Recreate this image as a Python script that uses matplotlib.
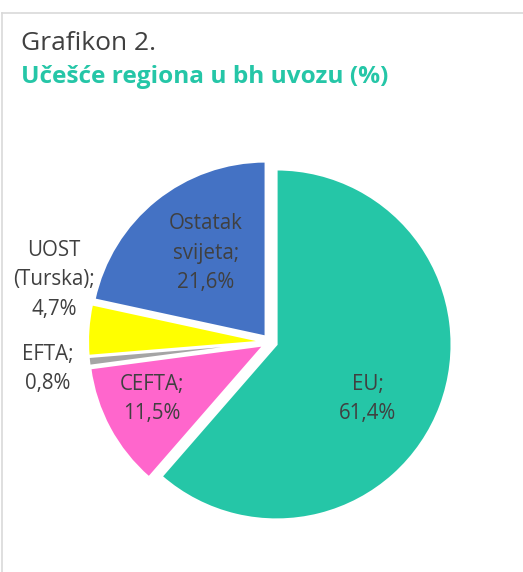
#!/usr/bin/env python3
# -*- coding: utf-8 -*-
"""Grafikon 2. -- Ucesce regiona u bh uvozu (%), pie with exploded slices."""
import matplotlib
matplotlib.use("Agg")
import matplotlib.pyplot as plt
from matplotlib.lines import Line2D

regions = ["EU", "CEFTA", "EFTA", "UOST\n(Turska)", "Ostatak\nsvijeta"]
shares = [61.4, 11.5, 0.8, 4.7, 21.6]
labels = ["EU;\n61,4%", "CEFTA;\n11,5%", "EFTA;\n0,8%",
          "UOST\n(Turska);\n4,7%", "Ostatak\nsvijeta;\n21,6%"]
colors = ["#25C6A7", "#FF66CC", "#A5A5A5", "#FFFF00", "#4472C4"]
# label centres in pixel coords (x, y from top)
label_pos = [(368, 399), (152, 399), (48, 369), (54, 280), (206, 253)]

W, H = 523, 572
TXT = "#404040"
TEAL = "#25C6A7"

fig = plt.figure(figsize=(W / 100, H / 100), dpi=100)
ax = fig.add_axes([0, 0, 1, 1])

CX, CY, R = 270, 342, 175
# explode offset in matplotlib is absolute (data units) -> ~8 px
ax.pie(shares, colors=colors, startangle=90, counterclock=False,
       center=(CX, H - CY), radius=R, explode=[7] * len(shares),
       wedgeprops=dict(linewidth=1.5, edgecolor="white"), frame=True)
ax.set_xlim(0, W)
ax.set_ylim(0, H)
ax.set_aspect("equal")
ax.axis("off")

for (x, y), t in zip(label_pos, labels):
    ax.text(x, H - y, t, ha="center", va="center", fontsize=14.8,
            family="Open Sans", color=TXT, linespacing=1.55)

# chart frame (light grey, runs off right/bottom edge)
ax.add_line(Line2D([1.5, W], [H - 12.5, H - 12.5], color="#D9D9D9", lw=1.2))
ax.add_line(Line2D([1.5, 1.5], [0, H - 12.5], color="#D9D9D9", lw=1.2))

ax.text(21, H - 43, "Grafikon 2.", fontsize=19, family="Open Sans",
        color=TXT, va="center", ha="left")
ax.text(21, H - 77, "Učešće regiona u bh uvozu (%)", fontsize=17.6,
        family="Open Sans", fontweight="bold", color=TEAL, va="center", ha="left")

fig.savefig("out.png", dpi=100)
